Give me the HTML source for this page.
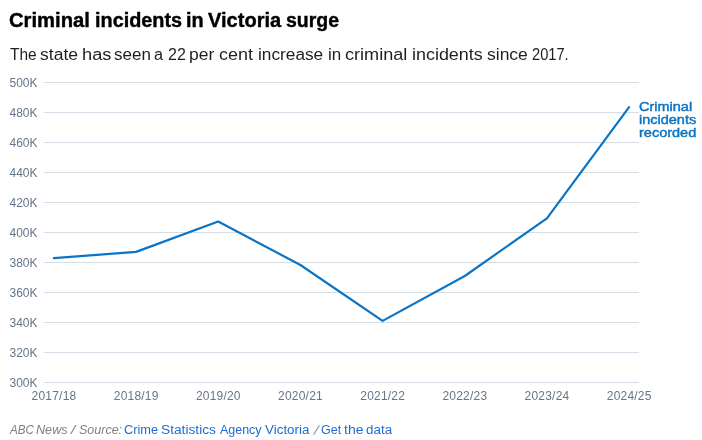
<!DOCTYPE html>
<html><head><meta charset="utf-8">
<style>
html,body{margin:0;padding:0;background:#fff;width:702px;height:440px;overflow:hidden;}
body{position:relative;will-change:transform;font-family:"Liberation Sans",sans-serif;}
.w{position:absolute;white-space:nowrap;line-height:1;transform-origin:0 0;}
.yl{position:absolute;left:9.5px;font-size:12px;color:#65758a;line-height:1;}
.xl{position:absolute;font-size:12px;color:#65758a;letter-spacing:0.2px;line-height:1;transform:translateX(-50%);top:390px;white-space:nowrap;}
</style></head><body>
<span class="w" style="left:9.08px;top:10px;transform:scale(1.0103,1.0);font-size:20px;font-weight:bold;-webkit-text-stroke:0.4px #000;color:#000">Criminal</span>
<span class="w" style="left:94.70px;top:10px;transform:scale(0.9922,1.0);font-size:20px;font-weight:bold;-webkit-text-stroke:0.4px #000;color:#000">incidents</span>
<span class="w" style="left:186.20px;top:10px;transform:scale(0.9932,1.0);font-size:20px;font-weight:bold;-webkit-text-stroke:0.4px #000;color:#000">in</span>
<span class="w" style="left:207.64px;top:10px;transform:scale(1.0019,1.0);font-size:20px;font-weight:bold;-webkit-text-stroke:0.4px #000;color:#000">Victoria</span>
<span class="w" style="left:286.24px;top:10px;transform:scale(0.9734,1.0);font-size:20px;font-weight:bold;-webkit-text-stroke:0.4px #000;color:#000">surge</span>
<span class="w" style="left:9.64px;top:47px;transform:scale(0.9665,1.0);font-size:16px;color:#1f1f1f">The</span>
<span class="w" style="left:40.47px;top:47px;transform:scale(1.0967,1.0);font-size:16px;color:#1f1f1f">state</span>
<span class="w" style="left:82.01px;top:47px;transform:scale(1.1417,1.0);font-size:16px;color:#1f1f1f">has</span>
<span class="w" style="left:114.09px;top:47px;transform:scale(1.0629,1.0);font-size:16px;color:#1f1f1f">seen</span>
<span class="w" style="left:154.26px;top:47px;transform:scale(1.0146,1.0);font-size:16px;color:#1f1f1f">a</span>
<span class="w" style="left:167.89px;top:47px;transform:scale(1.0011,1.0);font-size:16px;color:#1f1f1f">22</span>
<span class="w" style="left:189.33px;top:47px;transform:scale(1.0919,1.0);font-size:16px;color:#1f1f1f">per</span>
<span class="w" style="left:219.08px;top:47px;transform:scale(1.1234,1.0);font-size:16px;color:#1f1f1f">cent</span>
<span class="w" style="left:257.72px;top:47px;transform:scale(1.0782,1.0);font-size:16px;color:#1f1f1f">increase</span>
<span class="w" style="left:327.74px;top:47px;transform:scale(1.0621,1.0);font-size:16px;color:#1f1f1f">in</span>
<span class="w" style="left:345.18px;top:47px;transform:scale(1.1305,1.0);font-size:16px;color:#1f1f1f">criminal</span>
<span class="w" style="left:411.87px;top:47px;transform:scale(1.1199,1.0);font-size:16px;color:#1f1f1f">incidents</span>
<span class="w" style="left:486.97px;top:47px;transform:scale(1.0933,1.0);font-size:16px;color:#1f1f1f">since</span>
<span class="w" style="left:531.96px;top:47px;transform:scale(0.9160,1.0);font-size:16px;color:#1f1f1f">2017.</span>
<svg width="702" height="440" style="position:absolute;left:0;top:0">
<g stroke="#d5dee7" stroke-width="1">
<line x1="44" x2="639" y1="82.5" y2="82.5"/>
<line x1="44" x2="639" y1="112.5" y2="112.5"/>
<line x1="44" x2="639" y1="142.5" y2="142.5"/>
<line x1="44" x2="639" y1="172.5" y2="172.5"/>
<line x1="44" x2="639" y1="202.5" y2="202.5"/>
<line x1="44" x2="639" y1="232.5" y2="232.5"/>
<line x1="44" x2="639" y1="262.5" y2="262.5"/>
<line x1="44" x2="639" y1="292.5" y2="292.5"/>
<line x1="44" x2="639" y1="322.5" y2="322.5"/>
<line x1="44" x2="639" y1="352.5" y2="352.5"/>
<line x1="44" x2="639" y1="382.5" y2="382.5"/>
</g>
<polyline fill="none" stroke="#0a74c6" stroke-width="2.2" stroke-linejoin="round" stroke-linecap="round" points="53.9,258.1 136.1,251.9 218.2,221.5 300.4,265.0 382.6,320.9 464.8,276.0 546.9,218.3 629.1,107.1"/>
<line x1="313.6" y1="434.6" x2="319.4" y2="425.3" stroke="#999" stroke-width="1.2"/>
</svg>
<div class="yl" style="top:77px">500K</div>
<div class="yl" style="top:107px">480K</div>
<div class="yl" style="top:137px">460K</div>
<div class="yl" style="top:167px">440K</div>
<div class="yl" style="top:197px">420K</div>
<div class="yl" style="top:227px">400K</div>
<div class="yl" style="top:257px">380K</div>
<div class="yl" style="top:287px">360K</div>
<div class="yl" style="top:317px">340K</div>
<div class="yl" style="top:347px">320K</div>
<div class="yl" style="top:377px">300K</div>
<div class="xl" style="left:54.0px">2017/18</div>
<div class="xl" style="left:136.2px">2018/19</div>
<div class="xl" style="left:218.3px">2019/20</div>
<div class="xl" style="left:300.5px">2020/21</div>
<div class="xl" style="left:382.7px">2021/22</div>
<div class="xl" style="left:464.9px">2022/23</div>
<div class="xl" style="left:547.0px">2023/24</div>
<div class="xl" style="left:629.2px">2024/25</div>
<div class="w" style="left:639.2px;top:101px;font-size:13px;color:#0a74c4;-webkit-text-stroke:0.45px #0a74c4;line-height:12.85px;transform:scaleX(1.115)">Criminal<br>incidents<br>recorded</div>
<span class="w" style="left:9.80px;top:424px;transform:scale(0.9678,1.0);font-size:12px;font-style:italic;color:#7f7f7f">ABC</span>
<span class="w" style="left:36.40px;top:424px;transform:scale(1.0528,1.0);font-size:12px;font-style:italic;color:#7f7f7f">News</span>
<span class="w" style="left:71.20px;top:424px;transform:scale(1.2684,1.0);font-size:12px;font-style:italic;color:#7f7f7f">/</span>
<span class="w" style="left:79.35px;top:424px;transform:scale(1.0420,1.0);font-size:12px;font-style:italic;color:#7f7f7f">Source:</span>
<span class="w" style="left:123.92px;top:424px;transform:scale(1.0651,1.0);font-size:12px;color:#1c6cd0">Crime</span>
<span class="w" style="left:160.78px;top:424px;transform:scale(1.1442,1.0);font-size:12px;color:#1c6cd0">Statistics</span>
<span class="w" style="left:219.75px;top:424px;transform:scale(1.0391,1.0);font-size:12px;color:#1c6cd0">Agency</span>
<span class="w" style="left:265.22px;top:424px;transform:scale(1.1176,1.0);font-size:12px;color:#1c6cd0">Victoria</span>
<span class="w" style="left:321.13px;top:424px;transform:scale(1.0405,1.0);font-size:12px;color:#1c6cd0">Get</span>
<span class="w" style="left:344.35px;top:424px;transform:scale(1.1646,1.0);font-size:12px;color:#1c6cd0">the</span>
<span class="w" style="left:366.41px;top:424px;transform:scale(1.1173,1.0);font-size:12px;color:#1c6cd0">data</span>
</body></html>
